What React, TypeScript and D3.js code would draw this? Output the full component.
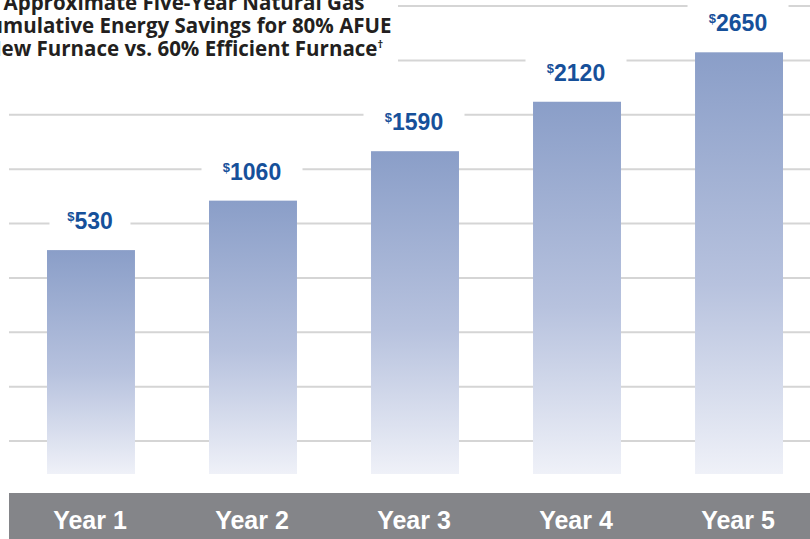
import React, { useEffect } from 'react'
import * as d3 from 'd3'

const years = ['Year 1', 'Year 2', 'Year 3', 'Year 4', 'Year 5']
const savings = [530, 1060, 1590, 2120, 2650]
const gridSteps = [0, 1, 2, 3, 4, 5, 6, 7, 8]
const titleLines = [
  'Approximate Five-Year Natural Gas',
  'Cumulative Energy Savings for 80% AFUE',
  'New Furnace vs. 60% Efficient Furnace',
]

const W = 810
const H = 539

const App = () => {
  useEffect(() => {
    document.body.style.margin = '0'
  }, [])

  const x = d3.scaleBand().domain(years).range([47, 783]).paddingInner(0.457).paddingOuter(0)
  const y = d3.scaleLinear().domain([-1870, 2650]).range([474, 52.3])
  const grid = d3.scaleLinear().domain([0, 8]).range([441, 6])

  const cx = (d: string) => (x(d) as number) + x.bandwidth() / 2

  return (
    <svg width={W} height={H} style={{ display: 'block' }}>
      <defs>
        <linearGradient id="barGrad" x1="0" y1="0" x2="0" y2="1">
          <stop offset="0" stopColor="#8a9ec8" />
          <stop offset="0.55" stopColor="#b7c2de" />
          <stop offset="1" stopColor="#eff1f8" />
        </linearGradient>
      </defs>

      {gridSteps.map(g => (
        <line key={g} x1={9} x2={W} y1={grid(g)} y2={grid(g)} stroke="#d5d5d5" strokeWidth={2} />
      ))}

      <rect x={0} y={0} width={398} height={70} fill="#fff" />
      <text fontFamily="'Open Sans', sans-serif" fontWeight={700} fontSize={20.5} fill="#231f20" textAnchor="middle">
        {titleLines.map((t, i) => (
          <tspan key={i} x={184} y={10 + i * 23}>
            {t}
            {i === 2 && <tspan fontSize={11} dy={-8}>†</tspan>}
          </tspan>
        ))}
      </text>

      {years.map((d, i) => (
        <rect key={d} x={x(d)} y={y(savings[i])} width={x.bandwidth()} height={y(-1870) - y(savings[i])} fill="url(#barGrad)" />
      ))}

      {years.map((d, i) => {
        const base = y(savings[i]) - 21
        const digits = String(savings[i]).length
        const boxW = 20 * digits + 21
        return (
          <g key={d}>
            <rect x={cx(d) - boxW / 2 - 1} y={base - 30} width={boxW} height={36} fill="#fff" />
            <text x={cx(d) - 1} y={base} textAnchor="middle" fontFamily="'Liberation Sans', Arial, sans-serif" fontWeight={700} fill="#16509a">
              <tspan fontSize={13} dy={-8}>$</tspan>
              <tspan fontSize={23} dy={8}>{savings[i]}</tspan>
            </text>
          </g>
        )
      })}

      <rect x={9} y={493} width={W - 9} height={H - 493} fill="#848589" />
      {years.map(d => (
        <text key={d} x={cx(d) - 1} y={529} textAnchor="middle" fontFamily="'Liberation Sans', Arial, sans-serif" fontWeight={700} fontSize={25} fill="#fff">
          {d}
        </text>
      ))}
    </svg>
  )
}

export default App
